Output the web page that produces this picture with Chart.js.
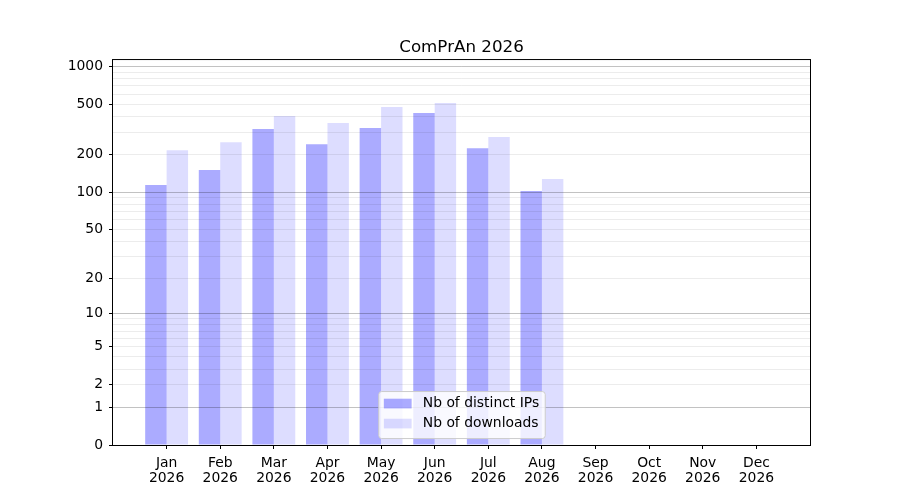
<!DOCTYPE html>
<html>
<head>
<meta charset="utf-8">
<script src="https://cdn.jsdelivr.net/npm/chart.js@4"></script>
<style>
  body { margin: 0; background: #fff; }
  canvas { display: block; }
</style>
</head>
<body>
<canvas id="myChart" width="900" height="500"></canvas>
<script>
// values
const months = ['Jan', 'Feb', 'Mar', 'Apr', 'May', 'Jun', 'Jul', 'Aug', 'Sep', 'Oct', 'Nov', 'Dec'];
const year = '2026';
const distinctIPs = [114, 150, 318, 241, 324, 426, 224, 102, 0, 0, 0, 0];
const downloads = [216, 250, 403, 355, 475, 511, 275, 127, 0, 0, 0, 0];
const seriesNames = ['Nb of distinct IPs', 'Nb of downloads'];
const yTicks = [0, 1, 2, 5, 10, 20, 50, 100, 200, 500, 1000];
const yMinorTicks = [3, 4, 6, 7, 8, 9, 30, 40, 60, 70, 80, 90, 300, 400, 600, 700, 800, 900];
const yDecades = [1, 10, 100, 1000];
const yMax = 1122;

const FONT = 'DejaVu Sans';
const FS = 13.9;

// y axis scaled as log10(1 + v)
class Log1pScale extends Chart.Scale {
    determineDataLimits() {
        this.min = this.options.min ?? 0;
        this.max = this.options.max ?? 1000;
    }
    buildTicks() {
        return yTicks.concat(yMinorTicks).sort((a, b) => a - b).map(v => ({ value: v }));
    }
    configure() {
        super.configure();
        this._lo = Math.log10(1 + this.min);
        this._span = Math.log10(1 + this.max) - this._lo;
    }
    getPixelForValue(value) {
        if (value === undefined || value === null || isNaN(value)) value = 0;
        return this.getPixelForDecimal((Math.log10(1 + Math.max(value, 0)) - this._lo) / this._span);
    }
    getValueForPixel(pixel) {
        const d = this.getDecimalForPixel(pixel);
        return Math.pow(10, this._lo + d * this._span) - 1;
    }
}
Log1pScale.id = 'log1p';
Log1pScale.defaults = {};
Chart.register(Log1pScale);

const barColors = ['rgba(0, 0, 255, 0.33)', 'rgba(0, 0, 255, 0.135)'];

// spines on all four sides plus a legend sitting inside the plot
const framePlugin = {
    id: 'frame',
    afterDraw(chart) {
        const { ctx, chartArea: a } = chart;
        ctx.save();
        ctx.strokeStyle = '#000';
        ctx.lineWidth = 1;
        ctx.strokeRect(a.left - 0.5, a.top - 0.5, a.right - a.left + 1, a.bottom - a.top + 1);

        ctx.font = FS + 'px "' + FONT + '"';
        const tw = Math.max(...seriesNames.map(n => ctx.measureText(n).width));
        const w = 0.4 * FS * 2 + 2 * FS + 0.8 * FS + tw;
        const h = 47;
        const x0 = (a.left + a.right) / 2 - w / 2;
        const y0 = a.bottom - 0.5 * FS - h;
        ctx.beginPath();
        ctx.roundRect(x0 + 0.5, y0 + 0.5, w, h, 3);
        ctx.fillStyle = 'rgba(255, 255, 255, 0.8)';
        ctx.fill();
        ctx.strokeStyle = '#cccccc';
        ctx.stroke();
        seriesNames.forEach((name, i) => {
            const cy = y0 + 12.5 + i * 20;
            ctx.fillStyle = barColors[i];
            ctx.fillRect(x0 + 0.4 * FS, cy - 0.35 * FS, 2 * FS, 0.7 * FS);
            ctx.fillStyle = '#000';
            ctx.textBaseline = 'middle';
            ctx.textAlign = 'left';
            ctx.fillText(name, x0 + 0.4 * FS + 2.8 * FS, cy);
        });
        ctx.restore();
    }
};

let bar = document.getElementById('myChart').getContext('2d');
let myChart = new Chart(bar, {
    type: 'bar',
    data: {
        datasets: [
            {
                label: seriesNames[0],
                backgroundColor: barColors[0],
                data: months.map((m, i) => ({ x: i, y: distinctIPs[i] })),
            },
            {
                label: seriesNames[1],
                backgroundColor: barColors[1],
                data: months.map((m, i) => ({ x: i, y: downloads[i] })),
            }
        ]
    },
    plugins: [framePlugin],
    options: {
        responsive: false,
        animation: false,
        devicePixelRatio: 1,
        categoryPercentage: 0.8,
        barPercentage: 1.0,
        layout: { padding: { left: 0, right: 90, top: 0, bottom: 0 } },
        plugins: {
            legend: { display: false },
            tooltip: { enabled: false },
            title: {
                display: true,
                fullSize: false,
                text: 'ComPrAn ' + year,
                color: '#000',
                font: { family: FONT, size: 16.7, weight: 'normal', lineHeight: 1.2 },
                padding: { top: 38, bottom: 2 }
            }
        },
        scales: {
            x: {
                type: 'linear',
                min: -1,
                max: 12,
                bounds: 'data',
                offset: false,
                afterBuildTicks: axis => {
                    axis.ticks = months.map((m, i) => ({ value: i }));
                },
                afterFit: s => { s.height = 55; },
                border: { display: false },
                grid: { offset: false, drawOnChartArea: false, tickLength: 4, tickColor: '#000' },
                ticks: {
                    autoSkip: false,
                    maxRotation: 0,
                    padding: 7,
                    color: '#000',
                    font: { family: FONT, size: FS, lineHeight: 1.08 },
                    callback: value => [months[value], year]
                }
            },
            y: {
                type: 'log1p',
                min: 0,
                max: yMax,
                afterFit: s => { s.width = 113; },
                border: { display: false },
                grid: {
                    z: 1,
                    tickLength: 4,
                    color: ctx => {
                        const v = ctx.tick ? ctx.tick.value : 0;
                        if (v === 0) return 'rgba(0,0,0,0)';
                        return yDecades.includes(v) ? 'rgba(0,0,0,0.24)' : 'rgba(0,0,0,0.075)';
                    },
                    tickColor: ctx => (ctx.tick && yTicks.includes(ctx.tick.value)) ? '#000' : 'rgba(0,0,0,0)'
                },
                ticks: {
                    autoSkip: false,
                    padding: 6,
                    color: '#000',
                    font: { family: FONT, size: FS },
                    callback: value => yTicks.includes(value) ? String(value) : ''
                }
            }
        }
    }
});
</script>
</body>
</html>
